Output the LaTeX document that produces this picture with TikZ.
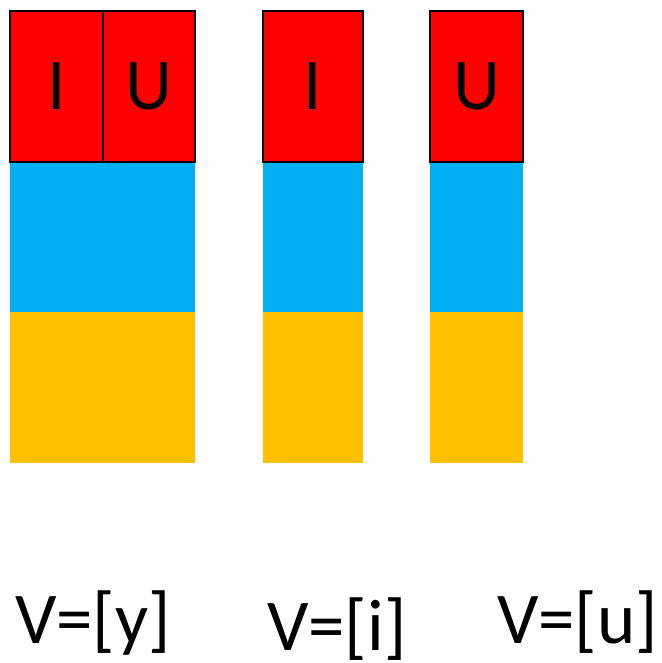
\documentclass[tikz,border=0pt]{standalone}
\usepackage{fontspec}
\setmainfont{Carlito}
\usetikzlibrary{positioning}
\definecolor{vred}{HTML}{FF0000}
\definecolor{vblue}{HTML}{00B0F0}
\definecolor{vgold}{HTML}{FFC000}

\begin{document}
\begin{tikzpicture}[x=1pt,y=-1pt,
 node distance=0pt,
 c/.style={inner sep=0pt,outer sep=0pt,minimum height=150pt,anchor=north west},
 r/.style={c,minimum height=151pt,draw=black,line width=2.5pt,fill=vred,
 font=\fontsize{73}{86}\selectfont},
 bl/.style={c,fill=vblue},
 ye/.style={c,minimum height=151pt,fill=vgold},
 v/.style={inner sep=0pt,anchor=base west,text depth=0pt,
 font=\fontsize{73}{86}\selectfont}]
 \useasboundingbox (0,0) rectangle (661,663);
 % [y]
 \node[bl,minimum width=185pt] (b1) at (10,162) {};
 \node[ye,minimum width=185pt,below=of b1] (y1) {};
 \node[r,minimum width=93pt] (ri) at (10,11) {I};
 \node[r,minimum width=92pt,right=of ri] (ru) {U};
 % [i]
 \node[bl,minimum width=100pt] (b2) at (263,162) {};
 \node[ye,minimum width=100pt,below=of b2] (y2) {};
 \node[r,minimum width=100pt] (r2) at (263,11) {I};
 % [u]
 \node[bl,minimum width=93pt] (b3) at (430,162) {};
 \node[ye,minimum width=93pt,below=of b3] (y3) {};
 \node[r,minimum width=93pt] (r3) at (430,11) {U};
 % labels
 \node[v] (ly) at (15,643) {V=[y]};
 \node[v] (li) at (267,650) {V=[i]};
 \node[v] (lu) at (497,643) {V=[u]};
\end{tikzpicture}
\end{document}
